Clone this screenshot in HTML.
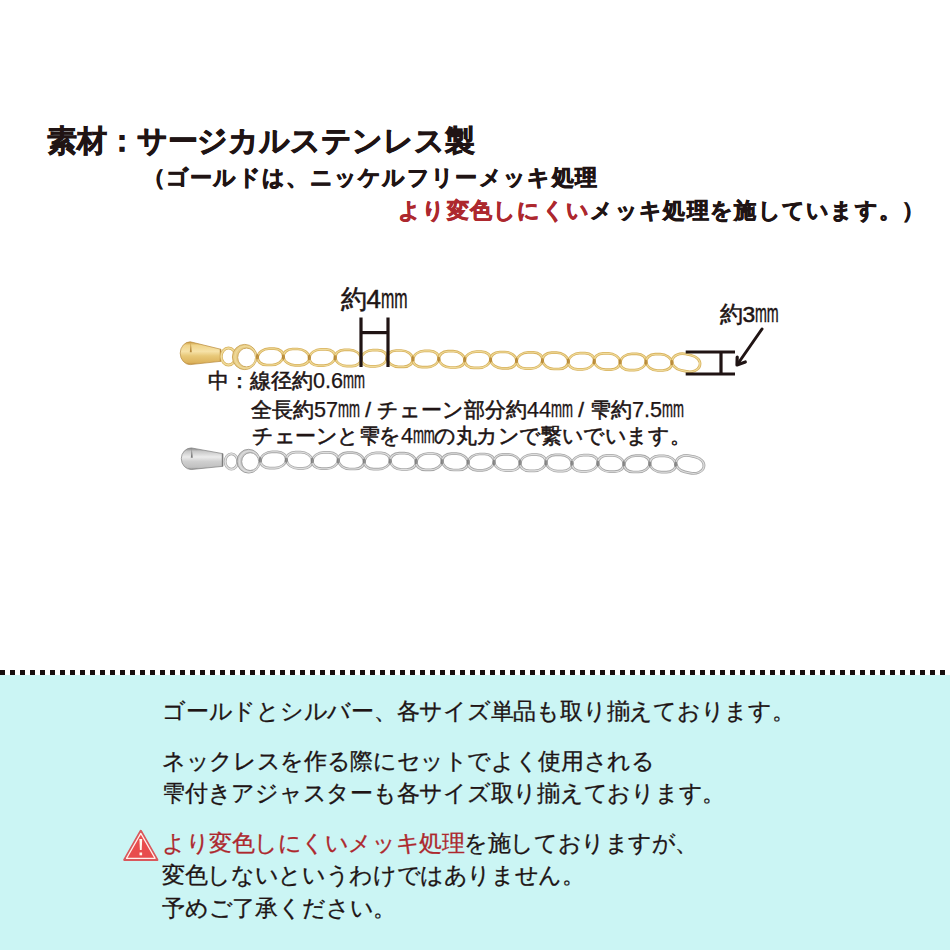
<!DOCTYPE html>
<html><head><meta charset="utf-8">
<style>
html,body{margin:0;padding:0;}
body{width:950px;height:950px;position:relative;overflow:hidden;background:#fff;font-family:"Liberation Sans",sans-serif;color:#201414;}
.t{position:absolute;white-space:nowrap;line-height:1;-webkit-text-stroke:0.3px #201414;}
.t .red{-webkit-text-stroke:0.3px #ad282e;}
.b{-webkit-text-stroke:0.7px #201414;}
.m{-webkit-text-stroke:0.55px #201414;}
.mm{display:inline-block;line-height:0;}
.n{font-size:21.6px;line-height:0;-webkit-text-stroke:0.25px #201414;}
.sl{letter-spacing:0.1px;}
.mm span{display:inline-block;transform-origin:0 0;-webkit-text-stroke:0.45px #201414;}
.b .red{-webkit-text-stroke:0.7px #ad282e;}
.b{font-weight:bold;}
.red{color:#ad282e;}
#bottom{position:absolute;left:0;top:675px;width:950px;height:275px;background:#cbf5f4;}
#dots{position:absolute;left:0;top:670px;width:950px;height:5px;background:repeating-linear-gradient(to right,#180e0e 0,#180e0e 5px,transparent 5px,transparent 10px);}
svg{position:absolute;left:0;top:0;}
</style></head><body>
<div class="t b " style="left:46.8px;top:125.8px;font-size:29.8px;letter-spacing:-0.06px;">素材：サージカルステンレス製</div>
<div class="t b " style="left:142.5px;top:167.2px;font-size:22.3px;letter-spacing:1.3px;">（ゴールドは、ニッケルフリーメッキ処理</div>
<div class="t b " style="left:398px;top:200.3px;font-size:22.3px;letter-spacing:1.3px;"><span class="red">より変色しにくい</span>メッキ処理を施しています。）</div>
<div class="t m" style="left:340.5px;top:286px;font-size:26px;letter-spacing:0px;">約4<span class="mm" style="font-size:28px;width:26.5px"><span style="transform:scaleX(0.57)">mm</span></span></div>
<div class="t m" style="left:719.5px;top:303px;font-size:22.8px;letter-spacing:0px;">約3<span class="mm" style="font-size:25px;width:23.5px"><span style="transform:scaleX(0.57)">mm</span></span></div>
<div class="t m" style="left:208px;top:370.5px;font-size:20.6px;letter-spacing:0px;">中：線径約<span class="n">0.6</span><span class="mm" style="font-size:23.5px;width:21.5px"><span style="transform:scaleX(0.56)">mm</span></span></div>
<div class="t m" style="left:251px;top:399.5px;font-size:20.6px;letter-spacing:0px;">全長約<span class="n">57</span><span class="mm" style="font-size:23.5px;width:21.5px"><span style="transform:scaleX(0.56)">mm</span></span><span class="sl"> / </span>チェーン部分約<span class="n">44</span><span class="mm" style="font-size:23.5px;width:21.5px"><span style="transform:scaleX(0.56)">mm</span></span><span class="sl"> / </span>雫約<span class="n">7.5</span><span class="mm" style="font-size:23.5px;width:21.5px"><span style="transform:scaleX(0.56)">mm</span></span></div>
<div class="t m" style="left:252px;top:426px;font-size:20.6px;letter-spacing:-0.42px;">チェーンと雫を<span class="n">4</span><span class="mm" style="font-size:23.5px;width:21.5px"><span style="transform:scaleX(0.56)">mm</span></span>の丸カンで繋いでいます。</div>
<div id="dots"></div>
<div id="bottom"></div>
<svg width="950" height="950" viewBox="0 0 950 950">
<defs><linearGradient id="ggold" x1="0" y1="0" x2="0" y2="1"><stop offset="0" stop-color="#c8983e"/><stop offset="0.15" stop-color="#f0d48a"/><stop offset="0.42" stop-color="#f6e2a8"/><stop offset="0.62" stop-color="#e8c878"/><stop offset="0.9" stop-color="#ddb45e"/><stop offset="1" stop-color="#c49340"/></linearGradient></defs>
<path d="M190.3,341.8 L221.0,349.3 L221.0,361.3 L190.3,364.6 A10,11.3 0 0 1 190.3,341.8 Z" fill="url(#ggold)" stroke="#b88a3c" stroke-width="0.7"/>
<path d="M190.8,342.8 L191.8,352.2 L189.8,352.2 Z" fill="#b88a3c"/>
<line x1="220.4" y1="349.3" x2="220.4" y2="361.3" stroke="#b88a3c" stroke-width="1.2"/>
<ellipse cx="228.5" cy="356.5" rx="7.2" ry="8.5" fill="none" stroke="#d8b25e" stroke-width="2.8"/>
<ellipse cx="228.5" cy="356.5" rx="7.2" ry="8.5" fill="none" stroke="#f0dc9c" stroke-width="1.5"/>
<path d="M232.4,357.0 A12.3,12.6 0 1 0 257.0,357.0 A12.3,12.6 0 1 0 232.4,357.0 Z M237.7,357.5 A8.9,9.4 0 1 0 255.5,357.5 A8.9,9.4 0 1 0 237.7,357.5 Z" fill="#e8cd88" fill-rule="evenodd" stroke="#c49a48" stroke-width="0.8"/>
<ellipse cx="245.6" cy="357.2" rx="10.6" ry="11.0" fill="none" stroke="#f0dc9c" stroke-width="1.2" opacity="0.8"/>
<g transform="translate(270.4,356.9) skewX(-8)"><rect x="-12.8" y="-8.2" width="25.7" height="16.3" rx="10.3" ry="8.2" fill="none" stroke="#d8b25e" stroke-width="2.7"/><rect x="-12.8" y="-8.2" width="25.7" height="16.3" rx="10.3" ry="8.2" fill="none" stroke="#f0dc9c" stroke-width="1.08"/></g>
<g transform="translate(296.3,357.2) skewX(8)"><rect x="-12.8" y="-8.2" width="25.7" height="16.3" rx="10.3" ry="8.2" fill="none" stroke="#d8b25e" stroke-width="2.7"/><rect x="-12.8" y="-8.2" width="25.7" height="16.3" rx="10.3" ry="8.2" fill="none" stroke="#f0dc9c" stroke-width="1.08"/></g>
<g transform="translate(322.2,357.6) skewX(-8)"><rect x="-12.8" y="-8.2" width="25.7" height="16.3" rx="10.3" ry="8.2" fill="none" stroke="#d8b25e" stroke-width="2.7"/><rect x="-12.8" y="-8.2" width="25.7" height="16.3" rx="10.3" ry="8.2" fill="none" stroke="#f0dc9c" stroke-width="1.08"/></g>
<g transform="translate(348.1,358.0) skewX(8)"><rect x="-12.8" y="-8.2" width="25.7" height="16.3" rx="10.3" ry="8.2" fill="none" stroke="#d8b25e" stroke-width="2.7"/><rect x="-12.8" y="-8.2" width="25.7" height="16.3" rx="10.3" ry="8.2" fill="none" stroke="#f0dc9c" stroke-width="1.08"/></g>
<g transform="translate(374.0,358.3) skewX(-8)"><rect x="-12.8" y="-8.2" width="25.7" height="16.3" rx="10.3" ry="8.2" fill="none" stroke="#d8b25e" stroke-width="2.7"/><rect x="-12.8" y="-8.2" width="25.7" height="16.3" rx="10.3" ry="8.2" fill="none" stroke="#f0dc9c" stroke-width="1.08"/></g>
<g transform="translate(399.9,358.7) skewX(8)"><rect x="-12.8" y="-8.2" width="25.7" height="16.3" rx="10.3" ry="8.2" fill="none" stroke="#d8b25e" stroke-width="2.7"/><rect x="-12.8" y="-8.2" width="25.7" height="16.3" rx="10.3" ry="8.2" fill="none" stroke="#f0dc9c" stroke-width="1.08"/></g>
<g transform="translate(425.8,359.1) skewX(-8)"><rect x="-12.8" y="-8.2" width="25.7" height="16.3" rx="10.3" ry="8.2" fill="none" stroke="#d8b25e" stroke-width="2.7"/><rect x="-12.8" y="-8.2" width="25.7" height="16.3" rx="10.3" ry="8.2" fill="none" stroke="#f0dc9c" stroke-width="1.08"/></g>
<g transform="translate(451.8,359.4) skewX(8)"><rect x="-12.8" y="-8.2" width="25.7" height="16.3" rx="10.3" ry="8.2" fill="none" stroke="#d8b25e" stroke-width="2.7"/><rect x="-12.8" y="-8.2" width="25.7" height="16.3" rx="10.3" ry="8.2" fill="none" stroke="#f0dc9c" stroke-width="1.08"/></g>
<g transform="translate(477.6,359.8) skewX(-8)"><rect x="-12.8" y="-8.2" width="25.7" height="16.3" rx="10.3" ry="8.2" fill="none" stroke="#d8b25e" stroke-width="2.7"/><rect x="-12.8" y="-8.2" width="25.7" height="16.3" rx="10.3" ry="8.2" fill="none" stroke="#f0dc9c" stroke-width="1.08"/></g>
<g transform="translate(503.5,360.2) skewX(8)"><rect x="-12.8" y="-8.2" width="25.7" height="16.3" rx="10.3" ry="8.2" fill="none" stroke="#d8b25e" stroke-width="2.7"/><rect x="-12.8" y="-8.2" width="25.7" height="16.3" rx="10.3" ry="8.2" fill="none" stroke="#f0dc9c" stroke-width="1.08"/></g>
<g transform="translate(529.5,360.5) skewX(-8)"><rect x="-12.8" y="-8.2" width="25.7" height="16.3" rx="10.3" ry="8.2" fill="none" stroke="#d8b25e" stroke-width="2.7"/><rect x="-12.8" y="-8.2" width="25.7" height="16.3" rx="10.3" ry="8.2" fill="none" stroke="#f0dc9c" stroke-width="1.08"/></g>
<g transform="translate(555.3,360.9) skewX(8)"><rect x="-12.8" y="-8.2" width="25.7" height="16.3" rx="10.3" ry="8.2" fill="none" stroke="#d8b25e" stroke-width="2.7"/><rect x="-12.8" y="-8.2" width="25.7" height="16.3" rx="10.3" ry="8.2" fill="none" stroke="#f0dc9c" stroke-width="1.08"/></g>
<g transform="translate(581.2,361.3) skewX(-8)"><rect x="-12.8" y="-8.2" width="25.7" height="16.3" rx="10.3" ry="8.2" fill="none" stroke="#d8b25e" stroke-width="2.7"/><rect x="-12.8" y="-8.2" width="25.7" height="16.3" rx="10.3" ry="8.2" fill="none" stroke="#f0dc9c" stroke-width="1.08"/></g>
<g transform="translate(607.1,361.6) skewX(8)"><rect x="-12.8" y="-8.2" width="25.7" height="16.3" rx="10.3" ry="8.2" fill="none" stroke="#d8b25e" stroke-width="2.7"/><rect x="-12.8" y="-8.2" width="25.7" height="16.3" rx="10.3" ry="8.2" fill="none" stroke="#f0dc9c" stroke-width="1.08"/></g>
<g transform="translate(633.0,362.0) skewX(-8)"><rect x="-12.8" y="-8.2" width="25.7" height="16.3" rx="10.3" ry="8.2" fill="none" stroke="#d8b25e" stroke-width="2.7"/><rect x="-12.8" y="-8.2" width="25.7" height="16.3" rx="10.3" ry="8.2" fill="none" stroke="#f0dc9c" stroke-width="1.08"/></g>
<g transform="translate(659.0,362.4) skewX(8)"><rect x="-12.8" y="-8.2" width="25.7" height="16.3" rx="10.3" ry="8.2" fill="none" stroke="#d8b25e" stroke-width="2.7"/><rect x="-12.8" y="-8.2" width="25.7" height="16.3" rx="10.3" ry="8.2" fill="none" stroke="#f0dc9c" stroke-width="1.08"/></g>
<g transform="translate(686.0,362.7) rotate(12) skewX(-4)"><rect x="-14.1" y="-8.4" width="28.2" height="16.8" rx="11.3" ry="8.4" fill="none" stroke="#d8b25e" stroke-width="2.7"/><rect x="-14.1" y="-8.4" width="28.2" height="16.8" rx="11.3" ry="8.4" fill="none" stroke="#f0dc9c" stroke-width="1.08"/></g>
<ellipse cx="257.5" cy="356.7" rx="1.5" ry="2.8" fill="#a8741f" opacity="0.7"/>
<ellipse cx="283.4" cy="357.1" rx="1.5" ry="2.8" fill="#a8741f" opacity="0.7"/>
<ellipse cx="309.3" cy="357.4" rx="1.5" ry="2.8" fill="#a8741f" opacity="0.7"/>
<ellipse cx="335.2" cy="357.8" rx="1.5" ry="2.8" fill="#a8741f" opacity="0.7"/>
<ellipse cx="361.1" cy="358.2" rx="1.5" ry="2.8" fill="#a8741f" opacity="0.7"/>
<ellipse cx="387.0" cy="358.5" rx="1.5" ry="2.8" fill="#a8741f" opacity="0.7"/>
<ellipse cx="412.9" cy="358.9" rx="1.5" ry="2.8" fill="#a8741f" opacity="0.7"/>
<ellipse cx="438.8" cy="359.3" rx="1.5" ry="2.8" fill="#a8741f" opacity="0.7"/>
<ellipse cx="464.7" cy="359.6" rx="1.5" ry="2.8" fill="#a8741f" opacity="0.7"/>
<ellipse cx="490.6" cy="360.0" rx="1.5" ry="2.8" fill="#a8741f" opacity="0.7"/>
<ellipse cx="516.5" cy="360.4" rx="1.5" ry="2.8" fill="#a8741f" opacity="0.7"/>
<ellipse cx="542.4" cy="360.7" rx="1.5" ry="2.8" fill="#a8741f" opacity="0.7"/>
<ellipse cx="568.3" cy="361.1" rx="1.5" ry="2.8" fill="#a8741f" opacity="0.7"/>
<ellipse cx="594.2" cy="361.4" rx="1.5" ry="2.8" fill="#a8741f" opacity="0.7"/>
<ellipse cx="620.1" cy="361.8" rx="1.5" ry="2.8" fill="#a8741f" opacity="0.7"/>
<ellipse cx="646.0" cy="362.2" rx="1.5" ry="2.8" fill="#a8741f" opacity="0.7"/>
<ellipse cx="671.9" cy="362.5" rx="1.5" ry="2.8" fill="#a8741f" opacity="0.7"/>
<defs><linearGradient id="gsilver" x1="0" y1="0" x2="0" y2="1"><stop offset="0" stop-color="#7e7e7e"/><stop offset="0.15" stop-color="#c6c6c6"/><stop offset="0.42" stop-color="#ececec"/><stop offset="0.62" stop-color="#d0d0d0"/><stop offset="0.9" stop-color="#c0c0c0"/><stop offset="1" stop-color="#8e8e8e"/></linearGradient></defs>
<path d="M191.3,447.9 L223.0,453.7 L223.0,466.3 L191.3,469.5 A10,10.8 0 0 1 191.3,447.9 Z" fill="url(#gsilver)" stroke="#7c7c7c" stroke-width="0.7"/>
<path d="M191.8,448.9 L192.8,457.7 L190.8,457.7 Z" fill="#7c7c7c"/>
<line x1="222.4" y1="453.7" x2="222.4" y2="466.3" stroke="#7c7c7c" stroke-width="1.2"/>
<ellipse cx="231.4" cy="461.5" rx="6.3" ry="7.7" fill="none" stroke="#a6a6a6" stroke-width="2.8"/>
<ellipse cx="231.4" cy="461.5" rx="6.3" ry="7.7" fill="none" stroke="#e0e0e0" stroke-width="1.5"/>
<path d="M237.0,461.2 A11.6,11.9 0 1 0 260.2,461.2 A11.6,11.9 0 1 0 237.0,461.2 Z M241.7,461.6 A8.5,8.9 0 1 0 258.7,461.6 A8.5,8.9 0 1 0 241.7,461.6 Z" fill="#cacaca" fill-rule="evenodd" stroke="#8e8e8e" stroke-width="0.8"/>
<ellipse cx="249.4" cy="461.4" rx="10.1" ry="10.4" fill="none" stroke="#e0e0e0" stroke-width="1.2" opacity="0.8"/>
<g transform="translate(273.3,460.0) skewX(-8)"><rect x="-12.8" y="-8.2" width="25.7" height="16.3" rx="10.3" ry="8.2" fill="none" stroke="#a6a6a6" stroke-width="2.7"/><rect x="-12.8" y="-8.2" width="25.7" height="16.3" rx="10.3" ry="8.2" fill="none" stroke="#e0e0e0" stroke-width="1.08"/></g>
<g transform="translate(299.3,460.3) skewX(8)"><rect x="-12.8" y="-8.2" width="25.7" height="16.3" rx="10.3" ry="8.2" fill="none" stroke="#a6a6a6" stroke-width="2.7"/><rect x="-12.8" y="-8.2" width="25.7" height="16.3" rx="10.3" ry="8.2" fill="none" stroke="#e0e0e0" stroke-width="1.08"/></g>
<g transform="translate(325.2,460.6) skewX(-8)"><rect x="-12.8" y="-8.2" width="25.7" height="16.3" rx="10.3" ry="8.2" fill="none" stroke="#a6a6a6" stroke-width="2.7"/><rect x="-12.8" y="-8.2" width="25.7" height="16.3" rx="10.3" ry="8.2" fill="none" stroke="#e0e0e0" stroke-width="1.08"/></g>
<g transform="translate(351.2,460.9) skewX(8)"><rect x="-12.8" y="-8.2" width="25.7" height="16.3" rx="10.3" ry="8.2" fill="none" stroke="#a6a6a6" stroke-width="2.7"/><rect x="-12.8" y="-8.2" width="25.7" height="16.3" rx="10.3" ry="8.2" fill="none" stroke="#e0e0e0" stroke-width="1.08"/></g>
<g transform="translate(377.2,461.1) skewX(-8)"><rect x="-12.8" y="-8.2" width="25.7" height="16.3" rx="10.3" ry="8.2" fill="none" stroke="#a6a6a6" stroke-width="2.7"/><rect x="-12.8" y="-8.2" width="25.7" height="16.3" rx="10.3" ry="8.2" fill="none" stroke="#e0e0e0" stroke-width="1.08"/></g>
<g transform="translate(403.1,461.4) skewX(8)"><rect x="-12.8" y="-8.2" width="25.7" height="16.3" rx="10.3" ry="8.2" fill="none" stroke="#a6a6a6" stroke-width="2.7"/><rect x="-12.8" y="-8.2" width="25.7" height="16.3" rx="10.3" ry="8.2" fill="none" stroke="#e0e0e0" stroke-width="1.08"/></g>
<g transform="translate(429.1,461.7) skewX(-8)"><rect x="-12.8" y="-8.2" width="25.7" height="16.3" rx="10.3" ry="8.2" fill="none" stroke="#a6a6a6" stroke-width="2.7"/><rect x="-12.8" y="-8.2" width="25.7" height="16.3" rx="10.3" ry="8.2" fill="none" stroke="#e0e0e0" stroke-width="1.08"/></g>
<g transform="translate(455.1,461.9) skewX(8)"><rect x="-12.8" y="-8.2" width="25.7" height="16.3" rx="10.3" ry="8.2" fill="none" stroke="#a6a6a6" stroke-width="2.7"/><rect x="-12.8" y="-8.2" width="25.7" height="16.3" rx="10.3" ry="8.2" fill="none" stroke="#e0e0e0" stroke-width="1.08"/></g>
<g transform="translate(481.0,462.2) skewX(-8)"><rect x="-12.8" y="-8.2" width="25.7" height="16.3" rx="10.3" ry="8.2" fill="none" stroke="#a6a6a6" stroke-width="2.7"/><rect x="-12.8" y="-8.2" width="25.7" height="16.3" rx="10.3" ry="8.2" fill="none" stroke="#e0e0e0" stroke-width="1.08"/></g>
<g transform="translate(507.0,462.5) skewX(8)"><rect x="-12.8" y="-8.2" width="25.7" height="16.3" rx="10.3" ry="8.2" fill="none" stroke="#a6a6a6" stroke-width="2.7"/><rect x="-12.8" y="-8.2" width="25.7" height="16.3" rx="10.3" ry="8.2" fill="none" stroke="#e0e0e0" stroke-width="1.08"/></g>
<g transform="translate(533.0,462.8) skewX(-8)"><rect x="-12.8" y="-8.2" width="25.7" height="16.3" rx="10.3" ry="8.2" fill="none" stroke="#a6a6a6" stroke-width="2.7"/><rect x="-12.8" y="-8.2" width="25.7" height="16.3" rx="10.3" ry="8.2" fill="none" stroke="#e0e0e0" stroke-width="1.08"/></g>
<g transform="translate(559.0,463.0) skewX(8)"><rect x="-12.8" y="-8.2" width="25.7" height="16.3" rx="10.3" ry="8.2" fill="none" stroke="#a6a6a6" stroke-width="2.7"/><rect x="-12.8" y="-8.2" width="25.7" height="16.3" rx="10.3" ry="8.2" fill="none" stroke="#e0e0e0" stroke-width="1.08"/></g>
<g transform="translate(584.9,463.3) skewX(-8)"><rect x="-12.8" y="-8.2" width="25.7" height="16.3" rx="10.3" ry="8.2" fill="none" stroke="#a6a6a6" stroke-width="2.7"/><rect x="-12.8" y="-8.2" width="25.7" height="16.3" rx="10.3" ry="8.2" fill="none" stroke="#e0e0e0" stroke-width="1.08"/></g>
<g transform="translate(610.9,463.6) skewX(8)"><rect x="-12.8" y="-8.2" width="25.7" height="16.3" rx="10.3" ry="8.2" fill="none" stroke="#a6a6a6" stroke-width="2.7"/><rect x="-12.8" y="-8.2" width="25.7" height="16.3" rx="10.3" ry="8.2" fill="none" stroke="#e0e0e0" stroke-width="1.08"/></g>
<g transform="translate(636.9,463.9) skewX(-8)"><rect x="-12.8" y="-8.2" width="25.7" height="16.3" rx="10.3" ry="8.2" fill="none" stroke="#a6a6a6" stroke-width="2.7"/><rect x="-12.8" y="-8.2" width="25.7" height="16.3" rx="10.3" ry="8.2" fill="none" stroke="#e0e0e0" stroke-width="1.08"/></g>
<g transform="translate(662.8,464.1) skewX(8)"><rect x="-12.8" y="-8.2" width="25.7" height="16.3" rx="10.3" ry="8.2" fill="none" stroke="#a6a6a6" stroke-width="2.7"/><rect x="-12.8" y="-8.2" width="25.7" height="16.3" rx="10.3" ry="8.2" fill="none" stroke="#e0e0e0" stroke-width="1.08"/></g>
<g transform="translate(690.0,464.4) rotate(12) skewX(-4)"><rect x="-14.1" y="-8.4" width="28.2" height="16.8" rx="11.3" ry="8.4" fill="none" stroke="#a6a6a6" stroke-width="2.7"/><rect x="-14.1" y="-8.4" width="28.2" height="16.8" rx="11.3" ry="8.4" fill="none" stroke="#e0e0e0" stroke-width="1.08"/></g>
<ellipse cx="260.3" cy="459.9" rx="1.5" ry="2.8" fill="#6e6e6e" opacity="0.7"/>
<ellipse cx="286.3" cy="460.2" rx="1.5" ry="2.8" fill="#6e6e6e" opacity="0.7"/>
<ellipse cx="312.2" cy="460.4" rx="1.5" ry="2.8" fill="#6e6e6e" opacity="0.7"/>
<ellipse cx="338.2" cy="460.7" rx="1.5" ry="2.8" fill="#6e6e6e" opacity="0.7"/>
<ellipse cx="364.2" cy="461.0" rx="1.5" ry="2.8" fill="#6e6e6e" opacity="0.7"/>
<ellipse cx="390.1" cy="461.3" rx="1.5" ry="2.8" fill="#6e6e6e" opacity="0.7"/>
<ellipse cx="416.1" cy="461.5" rx="1.5" ry="2.8" fill="#6e6e6e" opacity="0.7"/>
<ellipse cx="442.1" cy="461.8" rx="1.5" ry="2.8" fill="#6e6e6e" opacity="0.7"/>
<ellipse cx="468.1" cy="462.1" rx="1.5" ry="2.8" fill="#6e6e6e" opacity="0.7"/>
<ellipse cx="494.0" cy="462.4" rx="1.5" ry="2.8" fill="#6e6e6e" opacity="0.7"/>
<ellipse cx="520.0" cy="462.6" rx="1.5" ry="2.8" fill="#6e6e6e" opacity="0.7"/>
<ellipse cx="546.0" cy="462.9" rx="1.5" ry="2.8" fill="#6e6e6e" opacity="0.7"/>
<ellipse cx="571.9" cy="463.2" rx="1.5" ry="2.8" fill="#6e6e6e" opacity="0.7"/>
<ellipse cx="597.9" cy="463.4" rx="1.5" ry="2.8" fill="#6e6e6e" opacity="0.7"/>
<ellipse cx="623.9" cy="463.7" rx="1.5" ry="2.8" fill="#6e6e6e" opacity="0.7"/>
<ellipse cx="649.8" cy="464.0" rx="1.5" ry="2.8" fill="#6e6e6e" opacity="0.7"/>
<ellipse cx="675.8" cy="464.3" rx="1.5" ry="2.8" fill="#6e6e6e" opacity="0.7"/>

<g stroke="#201414" stroke-width="3.2" fill="none">
<line x1="361" y1="317.5" x2="361" y2="367"/>
<line x1="388" y1="317.5" x2="388" y2="367"/>
<line x1="361" y1="332.6" x2="388" y2="332.6"/>
<line x1="685.7" y1="352" x2="735" y2="352"/>
<line x1="685.7" y1="374" x2="735" y2="374"/>
<line x1="721" y1="352" x2="721" y2="374"/>
<line x1="762" y1="329" x2="738" y2="363.5" stroke-width="3" stroke-linecap="round"/>
<polyline points="737.2,357 737,365 745.3,362" stroke-width="3.2" stroke-linejoin="round" stroke-linecap="round"/>
</g>
<g transform="translate(140.8,846)">
<path d="M0,-14.8 L16.3,13.8 L-16.3,13.8 Z" fill="#e65a5a" stroke="#d9585c" stroke-width="2.6" stroke-linejoin="round"/>
<path d="M0,-12.6 L14.3,12.4 L-14.3,12.4 Z" fill="#e84d4d" stroke="#fff0ec" stroke-width="1.2" stroke-linejoin="round"/>
<path d="M-1.4,-7 L1.4,-7 L0.9,4 L-0.9,4 Z" fill="#fff8ee"/>
<rect x="-1.3" y="6.5" width="2.6" height="2.8" fill="#fff8ee"/>
</g>

</svg>
<div class="t " style="left:162px;top:700px;font-size:23.3px;letter-spacing:-0.235px;">ゴールドとシルバー、各サイズ単品も取り揃えております。</div>
<div class="t " style="left:162px;top:750px;font-size:23.3px;letter-spacing:-0.35px;">ネックレスを作る際にセットでよく使用される</div>
<div class="t " style="left:162px;top:782px;font-size:23.3px;letter-spacing:-0.24px;">雫付きアジャスターも各サイズ取り揃えております。</div>
<div class="t " style="left:162px;top:832px;font-size:23.3px;letter-spacing:-0.44px;"><span class="red">より変色しにくいメッキ処理</span>を施しておりますが、</div>
<div class="t " style="left:162px;top:864px;font-size:23.3px;letter-spacing:-0.35px;">変色しないというわけではありません。</div>
<div class="t " style="left:162px;top:897px;font-size:23.3px;letter-spacing:-0.18px;">予めご了承ください。</div>
</body></html>
